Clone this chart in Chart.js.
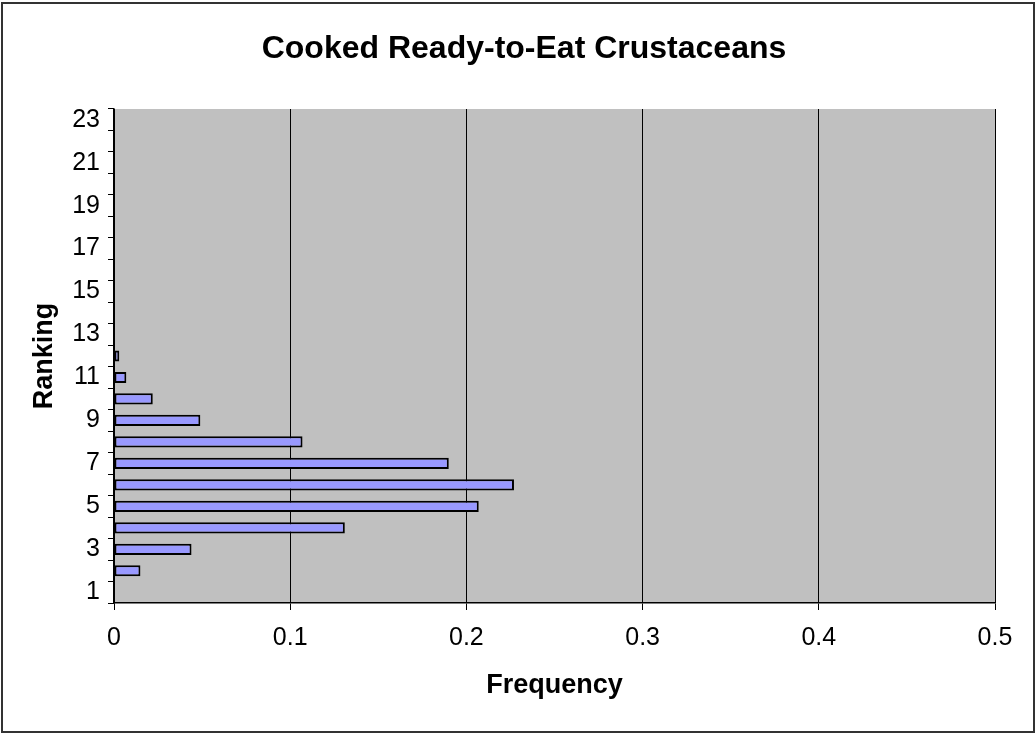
<!DOCTYPE html>
<html>
<head>
<meta charset="utf-8">
<script src="https://cdn.jsdelivr.net/npm/chart.js@4/dist/chart.umd.min.js"></script>
<style>
  html, body { margin: 0; padding: 0; background: #fff; }
  #wrap { width: 1036px; height: 733px; position: relative; }
</style>
</head>
<body>
<div id="wrap"><canvas id="myChart" width="1036" height="733"></canvas></div>
<script>
// ranking categories 1..23, bottom to top
const rankings = ["1","2","3","4","5","6","7","8","9","10","11","12","13","14","15","16","17","18","19","20","21","22","23"];
const frequencies = [0, 0.015, 0.044, 0.131, 0.207, 0.227, 0.19, 0.107, 0.049, 0.022, 0.007, 0.003, 0, 0, 0, 0, 0, 0, 0, 0, 0, 0, 0];
const xTicks = [0, 0.1, 0.2, 0.3, 0.4, 0.5];

const fontName = "'Liberation Sans', Arial, sans-serif";

// gray plot area and outer frame
const backdrop = {
  id: "backdrop",
  beforeDraw(chart) {
    const { ctx, chartArea } = chart;
    ctx.save();
    ctx.fillStyle = "#c0c0c0";
    ctx.fillRect(chartArea.left, chartArea.top, chartArea.right - chartArea.left, chartArea.bottom - chartArea.top);
    ctx.restore();
  },
  afterDraw(chart) {
    const ctx = chart.ctx;
    ctx.save();
    ctx.strokeStyle = "#333";
    ctx.lineWidth = 2;
    ctx.strokeRect(2, 3, 1032, 729);
    ctx.restore();
  },
};

var ctx = document.getElementById("myChart").getContext("2d");

var myChart = new Chart(ctx, {
  type: "bar",
  plugins: [backdrop],
  data: {
    labels: rankings,
    datasets: [
      {
        data: frequencies,
        backgroundColor: "#9999ff",
        borderColor: "#000",
        borderWidth: 2,
        borderSkipped: false,
        barPercentage: 0.52,
        categoryPercentage: 1,
      },
    ],
  },
  options: {
    indexAxis: "y",
    responsive: false,
    animation: false,
    // left/right padding chosen so the title centres where the reference has it
    layout: { padding: { top: 0, right: 41, bottom: 0, left: 53 } },
    plugins: {
      legend: { display: false },
      tooltip: { enabled: false },
      title: {
        display: true,
        text: "Cooked Ready-to-Eat Crustaceans",
        color: "#000",
        font: { family: fontName, size: 32, weight: "bold" },
        padding: { top: 30, bottom: 40.6 },
      },
    },
    scales: {
      x: {
        type: "linear",
        min: 0,
        max: 0.5,
        afterBuildTicks: (scale) => {
          scale.ticks = xTicks.map((v) => ({ value: v }));
        },
        afterFit: (scale) => {
          scale.height = 130;
        },
        ticks: {
          color: "#000",
          font: { family: fontName, size: 25 },
          padding: 13,
          callback: (v) => String(v),
        },
        grid: { color: "#000", lineWidth: 1, tickLength: 7 },
        border: { color: "#000", width: 1.5 },
        title: {
          display: true,
          text: "Frequency",
          color: "#000",
          font: { family: fontName, size: 27, weight: "bold" },
          padding: { top: 0, bottom: 31 },
        },
      },
      y: {
        type: "category",
        reverse: true,
        afterFit: (scale) => {
          scale.width = 61;
        },
        ticks: {
          autoSkip: false,
          color: "#000",
          font: { family: fontName, size: 25 },
          padding: 8,
          callback: function (v, i) {
            return i % 2 === 0 ? rankings[i] : "";
          },
        },
        grid: {
          offset: true,
          drawOnChartArea: false,
          drawTicks: true,
          tickLength: 6,
          color: "#000",
        },
        border: { color: "#000", width: 1.5 },
        title: {
          display: true,
          text: "Ranking",
          color: "#000",
          font: { family: fontName, size: 27, weight: "bold" },
          padding: { top: -24.2, bottom: 0 },
        },
      },
    },
  },
});
</script>
</body>
</html>
